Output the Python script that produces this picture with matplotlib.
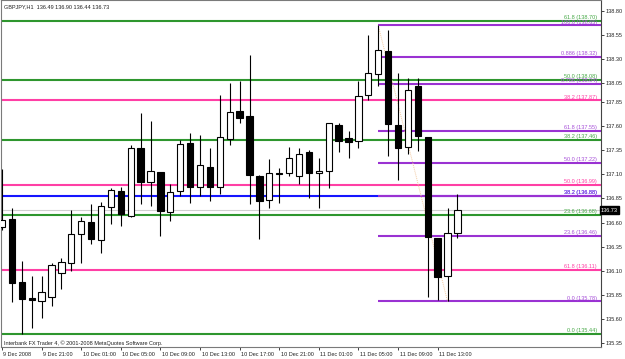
import matplotlib
matplotlib.use("Agg")
import matplotlib.pyplot as plt
import matplotlib.transforms as mtransforms

plt.rcParams['font.family'] = ['Liberation Sans', 'DejaVu Sans']

# ---- data (GBPJPY H1) ----
opens  = [136.55,136.64,135.98,135.81,135.78,135.82,136.08,136.18,136.48,136.61,
          136.42,136.76,136.93,136.67,137.37,137.02,137.13,136.71,136.93,137.43,
          136.97,137.18,136.97,137.47,137.76,137.71,137.08,136.83,137.11,137.11,
          137.08,137.33,137.12,137.14,137.61,137.48,137.45,137.93,138.14,138.38,
          137.61,137.39,138.02,137.49,136.44,136.04,136.49]
highs  = [137.16,136.75,136.20,136.04,136.04,136.18,136.23,136.73,136.66,136.79,
          136.81,136.96,136.97,137.41,137.74,137.66,137.13,137.00,137.46,137.53,
          137.51,137.37,137.93,138.05,138.07,138.34,137.09,137.26,137.17,137.39,
          137.38,137.35,137.27,137.64,137.64,137.55,138.07,138.55,138.65,138.60,
          138.16,138.10,138.10,137.49,136.44,136.75,136.90]
lows   = [136.52,135.77,135.44,135.50,135.61,135.73,135.91,136.10,136.18,136.38,
          136.28,136.58,136.56,136.66,136.79,136.77,136.46,136.62,136.88,136.80,
          136.88,136.82,136.90,137.41,137.63,136.79,136.43,136.75,136.80,137.08,
          137.00,136.85,136.75,136.96,137.33,137.27,137.38,137.87,138.02,137.29,
          137.04,137.31,137.34,135.82,135.79,135.78,136.44]
closes = [136.63,135.97,135.80,135.79,135.88,136.16,136.19,136.48,136.62,136.43,
          136.77,136.94,136.69,137.38,137.02,137.14,136.72,136.92,137.42,136.97,
          137.20,136.97,137.49,137.75,137.69,137.09,136.82,137.12,137.10,137.27,
          137.31,137.12,137.14,137.63,137.45,137.44,137.92,138.15,138.39,137.62,
          137.38,137.98,137.50,136.45,136.03,136.49,136.73]

time_tick_bars = [0, 4, 8, 12, 16, 20, 24, 28, 32, 36, 40, 44]
time_tick_labels = ["9 Dec 2008", "9 Dec 21:00", "10 Dec 01:00", "10 Dec 05:00",
                    "10 Dec 09:00", "10 Dec 13:00", "10 Dec 17:00", "10 Dec 21:00",
                    "11 Dec 01:00", "11 Dec 05:00", "11 Dec 09:00", "11 Dec 13:00"]
price_ticks = [138.80, 138.55, 138.30, 138.05, 137.85, 137.60, 137.35, 137.10,
               136.85, 136.60, 136.35, 136.10, 135.85, 135.60, 135.35]

green_levels = ["0.0", "23.6", "38.2", "50.0", "61.8"]
green_prices = [135.44, 136.68, 137.46, 138.08, 138.70]
pink_levels = ["38.2", "50.0", "61.8"]
pink_prices = [137.87, 136.99, 136.11]
purple_levels = ["0.0", "23.6", "38.2", "50.0", "61.8", "0.786", "0.886", "100.0"]
purple_prices = [135.78, 136.46, 136.88, 137.22, 137.55, 138.04, 138.32, 138.65]
blue_levels = ["38.2"]
blue_prices = [136.88]
purple_start_bar = 38
trend_bars = [38, 45]
trend_prices = [138.65, 135.78]
bid_price = 136.73
header = "GBPJPY,H1  136.49 136.90 136.44 136.73"
footer = "Interbank FX Trader 4, \u00a9 2001-2008 MetaQuotes Software Corp."

# ---- figure ----
W, H = 625, 359
fig = plt.figure(figsize=(W / 100, H / 100), dpi=100)
fig.patch.set_facecolor('white')
ax = fig.add_axes([1 / W, 12 / H, 600 / W, 347 / H])
ax.set_facecolor('white')

px_per_price = 96.14
ax.set_ylim(138.80 - (347 - 11) / px_per_price, 138.80 + 11 / px_per_price)
xmin, xmax = -0.101, 60.5
ax.set_xlim(xmin, xmax)

GREEN = '#2e962e'
GREEN_T = '#46a846'
PINK = '#ff3fa5'
PURPLE = '#9a32d2'
PURPLE_T = '#a64ed8'
BLUE = '#1515ff'
lab_x = (597 - 2) / 9.9

# bid line
ax.axhline(bid_price, color='#cfcfcf', lw=0.8, zorder=1)

def fib(levels, prices, color, tcolor, start):
    for lv, p in zip(levels, prices):
        ax.hlines(p, start, xmax, color=color, lw=1.5, zorder=2)
        ax.text(lab_x, p + 0.008, f"{lv} ({p:.2f})", color=tcolor, fontsize=4.0,
                ha='right', va='bottom', zorder=6)

fib(green_levels, green_prices, GREEN, GREEN_T, xmin)
fib(pink_levels, pink_prices, PINK, PINK, xmin)
fib(blue_levels, blue_prices, BLUE, BLUE, xmin)
fib(purple_levels, purple_prices, PURPLE, PURPLE_T, purple_start_bar)

ax.plot(trend_bars, trend_prices, color='#f2c9a0', lw=0.7, ls=(0, (1, 1)), zorder=3)

# candles
bars = list(range(len(opens)))
ax.vlines(bars, lows, highs, color='black', lw=0.8, zorder=4)
for i in bars:
    o, c = opens[i], closes[i]
    bottom = min(o, c)
    height = max(abs(c - o), 0.012)
    face = 'white' if c >= o else 'black'
    ax.bar(i, height, bottom=bottom, width=0.64, color=face, edgecolor='black',
           lw=0.8, zorder=5)

# axes styling
for s in ['top', 'left', 'bottom']:
    ax.spines[s].set_color('#7a7a7a')
    ax.spines[s].set_linewidth(0.8)
ax.spines['right'].set_color('#444444')
ax.spines['right'].set_linewidth(0.8)

ax.yaxis.tick_right()
ax.set_yticks(price_ticks)
ax.set_yticklabels([f"{p:.2f}" for p in price_ticks])
ax.tick_params(axis='y', length=2, width=0.6, pad=1.5, labelsize=4.0, colors='#222222')

ax.set_xticks(time_tick_bars)
ax.set_xticklabels(time_tick_labels)
ax.tick_params(axis='x', length=2.5, width=0.6, pad=1.2, labelsize=4.0, colors='#222222')
offset = mtransforms.ScaledTranslation(1.5 / 100, 0, fig.dpi_scale_trans)
for lab in ax.get_xticklabels():
    lab.set_ha('left')
    lab.set_transform(lab.get_transform() + offset)

# bid label box
ax.text(1.0, bid_price, f"{bid_price:.2f}", transform=ax.get_yaxis_transform(),
        ha='left', va='center', fontsize=4.0, color='white', zorder=10,
        clip_on=False,
        bbox=dict(boxstyle='square,pad=0.25', fc='black', ec='black'))

fig.text(4 / W, 1 - 7 / H, header, fontsize=4.0, ha='left', va='center', color='#222222')
fig.text(4 / W, 1 - 343 / H, footer, fontsize=4.0, ha='left', va='center', color='#222222')

fig.savefig('out.png', dpi=100)
